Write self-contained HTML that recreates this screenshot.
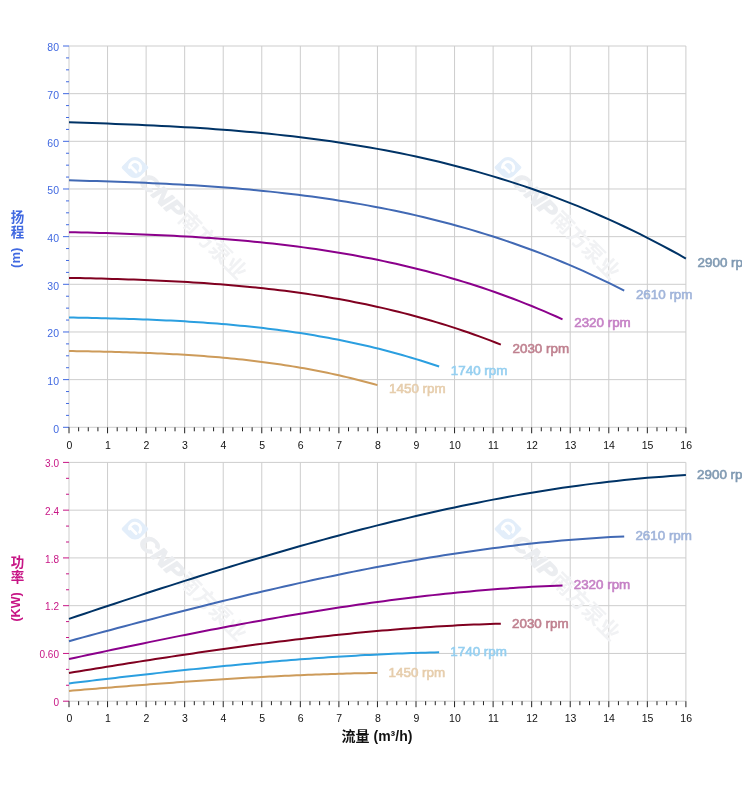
<!DOCTYPE html><html><head><meta charset="utf-8"><title>chart</title><style>
html,body{margin:0;padding:0;background:#fff}
#wrap{position:relative;width:742px;height:797px;overflow:hidden;background:#fff}
svg{position:absolute;left:0;top:0}
text{font-family:"Liberation Sans","Noto Sans CJK SC",sans-serif}
.yt{font-size:10.5px;text-anchor:end}.xt{font-size:10.5px;text-anchor:middle;fill:#111}
.sl{font-size:13.4px;font-weight:normal;stroke-width:0.6px;paint-order:stroke}
.vt{position:absolute;writing-mode:vertical-rl;font-family:"Liberation Sans","Noto Sans CJK SC",sans-serif;font-weight:bold;font-size:13px;line-height:15px;white-space:nowrap}
.wm{font-family:"Liberation Sans","Noto Sans CJK SC",sans-serif;fill:#e9ebee}
</style></head><body><div id="wrap">
<svg width="744" height="797" viewBox="0 0 744 797">
<g stroke-width="1" fill="none">
<line x1="69.0" x2="685.9" y1="427.3" y2="427.3" stroke="#cdcdcd"/>
<line x1="69.0" x2="685.9" y1="379.64" y2="379.64" stroke="#cdcdcd"/>
<line x1="69.0" x2="685.9" y1="331.98" y2="331.98" stroke="#cdcdcd"/>
<line x1="69.0" x2="685.9" y1="284.31" y2="284.31" stroke="#cdcdcd"/>
<line x1="69.0" x2="685.9" y1="236.65" y2="236.65" stroke="#cdcdcd"/>
<line x1="69.0" x2="685.9" y1="188.99" y2="188.99" stroke="#cdcdcd"/>
<line x1="69.0" x2="685.9" y1="141.32" y2="141.32" stroke="#cdcdcd"/>
<line x1="69.0" x2="685.9" y1="93.66" y2="93.66" stroke="#cdcdcd"/>
<line x1="69.0" x2="685.9" y1="46.0" y2="46.0" stroke="#cdcdcd"/>
<line x1="69.0" x2="69.0" y1="46.0" y2="427.3" stroke="#cdcdcd"/>
<line x1="107.56" x2="107.56" y1="46.0" y2="427.3" stroke="#cdcdcd"/>
<line x1="146.11" x2="146.11" y1="46.0" y2="427.3" stroke="#cdcdcd"/>
<line x1="184.67" x2="184.67" y1="46.0" y2="427.3" stroke="#cdcdcd"/>
<line x1="223.22" x2="223.22" y1="46.0" y2="427.3" stroke="#cdcdcd"/>
<line x1="261.78" x2="261.78" y1="46.0" y2="427.3" stroke="#cdcdcd"/>
<line x1="300.34" x2="300.34" y1="46.0" y2="427.3" stroke="#cdcdcd"/>
<line x1="338.89" x2="338.89" y1="46.0" y2="427.3" stroke="#cdcdcd"/>
<line x1="377.45" x2="377.45" y1="46.0" y2="427.3" stroke="#cdcdcd"/>
<line x1="416.01" x2="416.01" y1="46.0" y2="427.3" stroke="#cdcdcd"/>
<line x1="454.56" x2="454.56" y1="46.0" y2="427.3" stroke="#cdcdcd"/>
<line x1="493.12" x2="493.12" y1="46.0" y2="427.3" stroke="#cdcdcd"/>
<line x1="531.67" x2="531.67" y1="46.0" y2="427.3" stroke="#cdcdcd"/>
<line x1="570.23" x2="570.23" y1="46.0" y2="427.3" stroke="#cdcdcd"/>
<line x1="608.79" x2="608.79" y1="46.0" y2="427.3" stroke="#cdcdcd"/>
<line x1="647.34" x2="647.34" y1="46.0" y2="427.3" stroke="#cdcdcd"/>
<line x1="685.9" x2="685.9" y1="46.0" y2="427.3" stroke="#cdcdcd"/>
<line x1="63.0" x2="69.0" y1="427.3" y2="427.3" stroke="#4169e1"/>
<line x1="66.0" x2="69.0" y1="415.38" y2="415.38" stroke="#4169e1"/>
<line x1="66.0" x2="69.0" y1="403.47" y2="403.47" stroke="#4169e1"/>
<line x1="66.0" x2="69.0" y1="391.55" y2="391.55" stroke="#4169e1"/>
<line x1="63.0" x2="69.0" y1="379.64" y2="379.64" stroke="#4169e1"/>
<line x1="66.0" x2="69.0" y1="367.72" y2="367.72" stroke="#4169e1"/>
<line x1="66.0" x2="69.0" y1="355.81" y2="355.81" stroke="#4169e1"/>
<line x1="66.0" x2="69.0" y1="343.89" y2="343.89" stroke="#4169e1"/>
<line x1="63.0" x2="69.0" y1="331.98" y2="331.98" stroke="#4169e1"/>
<line x1="66.0" x2="69.0" y1="320.06" y2="320.06" stroke="#4169e1"/>
<line x1="66.0" x2="69.0" y1="308.14" y2="308.14" stroke="#4169e1"/>
<line x1="66.0" x2="69.0" y1="296.23" y2="296.23" stroke="#4169e1"/>
<line x1="63.0" x2="69.0" y1="284.31" y2="284.31" stroke="#4169e1"/>
<line x1="66.0" x2="69.0" y1="272.4" y2="272.4" stroke="#4169e1"/>
<line x1="66.0" x2="69.0" y1="260.48" y2="260.48" stroke="#4169e1"/>
<line x1="66.0" x2="69.0" y1="248.57" y2="248.57" stroke="#4169e1"/>
<line x1="63.0" x2="69.0" y1="236.65" y2="236.65" stroke="#4169e1"/>
<line x1="66.0" x2="69.0" y1="224.73" y2="224.73" stroke="#4169e1"/>
<line x1="66.0" x2="69.0" y1="212.82" y2="212.82" stroke="#4169e1"/>
<line x1="66.0" x2="69.0" y1="200.9" y2="200.9" stroke="#4169e1"/>
<line x1="63.0" x2="69.0" y1="188.99" y2="188.99" stroke="#4169e1"/>
<line x1="66.0" x2="69.0" y1="177.07" y2="177.07" stroke="#4169e1"/>
<line x1="66.0" x2="69.0" y1="165.16" y2="165.16" stroke="#4169e1"/>
<line x1="66.0" x2="69.0" y1="153.24" y2="153.24" stroke="#4169e1"/>
<line x1="63.0" x2="69.0" y1="141.32" y2="141.32" stroke="#4169e1"/>
<line x1="66.0" x2="69.0" y1="129.41" y2="129.41" stroke="#4169e1"/>
<line x1="66.0" x2="69.0" y1="117.49" y2="117.49" stroke="#4169e1"/>
<line x1="66.0" x2="69.0" y1="105.58" y2="105.58" stroke="#4169e1"/>
<line x1="63.0" x2="69.0" y1="93.66" y2="93.66" stroke="#4169e1"/>
<line x1="66.0" x2="69.0" y1="81.75" y2="81.75" stroke="#4169e1"/>
<line x1="66.0" x2="69.0" y1="69.83" y2="69.83" stroke="#4169e1"/>
<line x1="66.0" x2="69.0" y1="57.92" y2="57.92" stroke="#4169e1"/>
<line x1="63.0" x2="69.0" y1="46.0" y2="46.0" stroke="#4169e1"/>
<line x1="69.0" x2="69.0" y1="427.3" y2="433.3" stroke="#222"/>
<line x1="78.64" x2="78.64" y1="427.3" y2="431.3" stroke="#222"/>
<line x1="88.28" x2="88.28" y1="427.3" y2="431.3" stroke="#222"/>
<line x1="97.92" x2="97.92" y1="427.3" y2="431.3" stroke="#222"/>
<line x1="107.56" x2="107.56" y1="427.3" y2="433.3" stroke="#222"/>
<line x1="117.2" x2="117.2" y1="427.3" y2="431.3" stroke="#222"/>
<line x1="126.83" x2="126.83" y1="427.3" y2="431.3" stroke="#222"/>
<line x1="136.47" x2="136.47" y1="427.3" y2="431.3" stroke="#222"/>
<line x1="146.11" x2="146.11" y1="427.3" y2="433.3" stroke="#222"/>
<line x1="155.75" x2="155.75" y1="427.3" y2="431.3" stroke="#222"/>
<line x1="165.39" x2="165.39" y1="427.3" y2="431.3" stroke="#222"/>
<line x1="175.03" x2="175.03" y1="427.3" y2="431.3" stroke="#222"/>
<line x1="184.67" x2="184.67" y1="427.3" y2="433.3" stroke="#222"/>
<line x1="194.31" x2="194.31" y1="427.3" y2="431.3" stroke="#222"/>
<line x1="203.95" x2="203.95" y1="427.3" y2="431.3" stroke="#222"/>
<line x1="213.59" x2="213.59" y1="427.3" y2="431.3" stroke="#222"/>
<line x1="223.22" x2="223.22" y1="427.3" y2="433.3" stroke="#222"/>
<line x1="232.86" x2="232.86" y1="427.3" y2="431.3" stroke="#222"/>
<line x1="242.5" x2="242.5" y1="427.3" y2="431.3" stroke="#222"/>
<line x1="252.14" x2="252.14" y1="427.3" y2="431.3" stroke="#222"/>
<line x1="261.78" x2="261.78" y1="427.3" y2="433.3" stroke="#222"/>
<line x1="271.42" x2="271.42" y1="427.3" y2="431.3" stroke="#222"/>
<line x1="281.06" x2="281.06" y1="427.3" y2="431.3" stroke="#222"/>
<line x1="290.7" x2="290.7" y1="427.3" y2="431.3" stroke="#222"/>
<line x1="300.34" x2="300.34" y1="427.3" y2="433.3" stroke="#222"/>
<line x1="309.98" x2="309.98" y1="427.3" y2="431.3" stroke="#222"/>
<line x1="319.62" x2="319.62" y1="427.3" y2="431.3" stroke="#222"/>
<line x1="329.25" x2="329.25" y1="427.3" y2="431.3" stroke="#222"/>
<line x1="338.89" x2="338.89" y1="427.3" y2="433.3" stroke="#222"/>
<line x1="348.53" x2="348.53" y1="427.3" y2="431.3" stroke="#222"/>
<line x1="358.17" x2="358.17" y1="427.3" y2="431.3" stroke="#222"/>
<line x1="367.81" x2="367.81" y1="427.3" y2="431.3" stroke="#222"/>
<line x1="377.45" x2="377.45" y1="427.3" y2="433.3" stroke="#222"/>
<line x1="387.09" x2="387.09" y1="427.3" y2="431.3" stroke="#222"/>
<line x1="396.73" x2="396.73" y1="427.3" y2="431.3" stroke="#222"/>
<line x1="406.37" x2="406.37" y1="427.3" y2="431.3" stroke="#222"/>
<line x1="416.01" x2="416.01" y1="427.3" y2="433.3" stroke="#222"/>
<line x1="425.65" x2="425.65" y1="427.3" y2="431.3" stroke="#222"/>
<line x1="435.28" x2="435.28" y1="427.3" y2="431.3" stroke="#222"/>
<line x1="444.92" x2="444.92" y1="427.3" y2="431.3" stroke="#222"/>
<line x1="454.56" x2="454.56" y1="427.3" y2="433.3" stroke="#222"/>
<line x1="464.2" x2="464.2" y1="427.3" y2="431.3" stroke="#222"/>
<line x1="473.84" x2="473.84" y1="427.3" y2="431.3" stroke="#222"/>
<line x1="483.48" x2="483.48" y1="427.3" y2="431.3" stroke="#222"/>
<line x1="493.12" x2="493.12" y1="427.3" y2="433.3" stroke="#222"/>
<line x1="502.76" x2="502.76" y1="427.3" y2="431.3" stroke="#222"/>
<line x1="512.4" x2="512.4" y1="427.3" y2="431.3" stroke="#222"/>
<line x1="522.04" x2="522.04" y1="427.3" y2="431.3" stroke="#222"/>
<line x1="531.67" x2="531.67" y1="427.3" y2="433.3" stroke="#222"/>
<line x1="541.31" x2="541.31" y1="427.3" y2="431.3" stroke="#222"/>
<line x1="550.95" x2="550.95" y1="427.3" y2="431.3" stroke="#222"/>
<line x1="560.59" x2="560.59" y1="427.3" y2="431.3" stroke="#222"/>
<line x1="570.23" x2="570.23" y1="427.3" y2="433.3" stroke="#222"/>
<line x1="579.87" x2="579.87" y1="427.3" y2="431.3" stroke="#222"/>
<line x1="589.51" x2="589.51" y1="427.3" y2="431.3" stroke="#222"/>
<line x1="599.15" x2="599.15" y1="427.3" y2="431.3" stroke="#222"/>
<line x1="608.79" x2="608.79" y1="427.3" y2="433.3" stroke="#222"/>
<line x1="618.43" x2="618.43" y1="427.3" y2="431.3" stroke="#222"/>
<line x1="628.07" x2="628.07" y1="427.3" y2="431.3" stroke="#222"/>
<line x1="637.7" x2="637.7" y1="427.3" y2="431.3" stroke="#222"/>
<line x1="647.34" x2="647.34" y1="427.3" y2="433.3" stroke="#222"/>
<line x1="656.98" x2="656.98" y1="427.3" y2="431.3" stroke="#222"/>
<line x1="666.62" x2="666.62" y1="427.3" y2="431.3" stroke="#222"/>
<line x1="676.26" x2="676.26" y1="427.3" y2="431.3" stroke="#222"/>
<line x1="685.9" x2="685.9" y1="427.3" y2="433.3" stroke="#222"/>
</g>
<text class="yt" x="59" y="432.6" fill="#4169e1" style="font-size:10.5px">0</text>
<text class="yt" x="59" y="384.9" fill="#4169e1" style="font-size:10.5px">10</text>
<text class="yt" x="59" y="337.3" fill="#4169e1" style="font-size:10.5px">20</text>
<text class="yt" x="59" y="289.6" fill="#4169e1" style="font-size:10.5px">30</text>
<text class="yt" x="59" y="242.0" fill="#4169e1" style="font-size:10.5px">40</text>
<text class="yt" x="59" y="194.3" fill="#4169e1" style="font-size:10.5px">50</text>
<text class="yt" x="59" y="146.6" fill="#4169e1" style="font-size:10.5px">60</text>
<text class="yt" x="59" y="99.0" fill="#4169e1" style="font-size:10.5px">70</text>
<text class="yt" x="59" y="51.3" fill="#4169e1" style="font-size:10.5px">80</text>
<text class="xt" x="69.3" y="448.8">0</text>
<text class="xt" x="107.9" y="448.8">1</text>
<text class="xt" x="146.4" y="448.8">2</text>
<text class="xt" x="185.0" y="448.8">3</text>
<text class="xt" x="223.5" y="448.8">4</text>
<text class="xt" x="262.1" y="448.8">5</text>
<text class="xt" x="300.6" y="448.8">6</text>
<text class="xt" x="339.2" y="448.8">7</text>
<text class="xt" x="377.8" y="448.8">8</text>
<text class="xt" x="416.3" y="448.8">9</text>
<text class="xt" x="454.9" y="448.8">10</text>
<text class="xt" x="493.4" y="448.8">11</text>
<text class="xt" x="532.0" y="448.8">12</text>
<text class="xt" x="570.5" y="448.8">13</text>
<text class="xt" x="609.1" y="448.8">14</text>
<text class="xt" x="647.6" y="448.8">15</text>
<text class="xt" x="686.2" y="448.8">16</text>
<g transform="translate(135,167.5) rotate(45)" class="wm">
<g transform="scale(1.13)"><path d="M-1.5,-8.75 L7.25,-8.75 Q8.75,-8.75 8.75,-7.25 L8.75,1.5 A7.25,7.25 0 0 1 1.5,8.75 L-7.25,8.75 Q-8.75,8.75 -8.75,7.25 L-8.75,-1.5 A7.25,7.25 0 0 1 -1.5,-8.75 Z" fill="#e3eefa"/>
<path d="M-3.5,3.5 A5,5 0 1 1 4.9,-0.87 M-3,2.1 L3.5,2.1" fill="none" stroke="#fff" stroke-width="2.5" stroke-linecap="round"/></g>
<text x="12" y="8.5" font-size="22" font-weight="bold" font-style="italic" textLength="54" lengthAdjust="spacingAndGlyphs" fill="#ebedf0" stroke="#ebedf0" stroke-width="1.3" stroke-linejoin="round">CNP</text>
<text x="67" y="7.5" font-size="21.5" font-weight="bold" fill="#f1f2f4">南方泵业</text>
</g>
<g transform="translate(508,167.5) rotate(45)" class="wm">
<g transform="scale(1.13)"><path d="M-1.5,-8.75 L7.25,-8.75 Q8.75,-8.75 8.75,-7.25 L8.75,1.5 A7.25,7.25 0 0 1 1.5,8.75 L-7.25,8.75 Q-8.75,8.75 -8.75,7.25 L-8.75,-1.5 A7.25,7.25 0 0 1 -1.5,-8.75 Z" fill="#e3eefa"/>
<path d="M-3.5,3.5 A5,5 0 1 1 4.9,-0.87 M-3,2.1 L3.5,2.1" fill="none" stroke="#fff" stroke-width="2.5" stroke-linecap="round"/></g>
<text x="12" y="8.5" font-size="22" font-weight="bold" font-style="italic" textLength="54" lengthAdjust="spacingAndGlyphs" fill="#ebedf0" stroke="#ebedf0" stroke-width="1.3" stroke-linejoin="round">CNP</text>
<text x="67" y="7.5" font-size="21.5" font-weight="bold" fill="#f1f2f4">南方泵业</text>
</g>
<polyline fill="none" stroke="#003366" stroke-width="2" stroke-linejoin="round" points="69.00,122.37 76.71,122.59 84.42,122.83 92.13,123.08 99.84,123.33 107.56,123.60 115.27,123.88 122.98,124.17 130.69,124.48 138.40,124.80 146.11,125.15 153.82,125.50 161.54,125.88 169.25,126.28 176.96,126.70 184.67,127.14 192.38,127.61 200.09,128.10 207.80,128.62 215.51,129.16 223.22,129.73 230.94,130.34 238.65,130.97 246.36,131.63 254.07,132.33 261.78,133.06 269.49,133.83 277.20,134.63 284.92,135.47 292.63,136.34 300.34,137.26 308.05,138.22 315.76,139.22 323.47,140.26 331.18,141.35 338.89,142.48 346.61,143.66 354.32,144.89 362.03,146.16 369.74,147.48 377.45,148.86 385.16,150.29 392.87,151.77 400.58,153.30 408.30,154.89 416.01,156.54 423.72,158.24 431.43,160.01 439.14,161.83 446.85,163.71 454.56,165.66 462.27,167.67 469.99,169.74 477.70,171.88 485.41,174.09 493.12,176.36 500.83,178.71 508.54,181.12 516.25,183.60 523.96,186.16 531.67,188.79 539.39,191.50 547.10,194.28 554.81,197.13 562.52,200.07 570.23,203.09 577.94,206.18 585.65,209.36 593.37,212.62 601.08,215.96 608.79,219.39 616.50,222.90 624.21,226.50 631.92,230.19 639.63,233.97 647.34,237.84 655.06,241.80 662.77,245.85 670.48,250.00 678.19,254.24 685.90,258.58"/>
<text class="sl" x="697.6" y="266.6" fill="#7f99b2" stroke="#7f99b2">2900 rpm</text>
<polyline fill="none" stroke="#4169b4" stroke-width="2" stroke-linejoin="round" points="69.00,180.30 75.94,180.49 82.88,180.68 89.82,180.88 96.76,181.09 103.70,181.30 110.64,181.53 117.58,181.77 124.52,182.02 131.46,182.28 138.40,182.55 145.34,182.85 152.28,183.15 159.22,183.47 166.16,183.81 173.10,184.17 180.04,184.55 186.98,184.95 193.92,185.37 200.86,185.81 207.80,186.27 214.74,186.76 221.68,187.27 228.62,187.81 235.56,188.37 242.50,188.97 249.44,189.59 256.38,190.23 263.32,190.91 270.26,191.63 277.20,192.37 284.14,193.14 291.08,193.95 298.02,194.80 304.96,195.68 311.90,196.60 318.84,197.55 325.78,198.54 332.72,199.58 339.66,200.65 346.60,201.76 353.55,202.92 360.49,204.12 367.43,205.36 374.37,206.65 381.31,207.98 388.25,209.36 395.19,210.79 402.13,212.27 409.07,213.79 416.01,215.37 422.95,217.00 429.89,218.68 436.83,220.41 443.77,222.20 450.71,224.04 457.65,225.94 464.59,227.89 471.53,229.91 478.47,231.98 485.41,234.11 492.35,236.30 499.29,238.55 506.23,240.87 513.17,243.24 520.11,245.69 527.05,248.19 533.99,250.77 540.93,253.41 547.87,256.11 554.81,258.89 561.75,261.74 568.69,264.65 575.63,267.64 582.57,270.70 589.51,273.83 596.45,277.04 603.39,280.33 610.33,283.68 617.27,287.12 624.21,290.63"/>
<text class="sl" x="635.9" y="298.6" fill="#a0b4da" stroke="#a0b4da">2610 rpm</text>
<polyline fill="none" stroke="#8b008b" stroke-width="2" stroke-linejoin="round" points="69.00,232.14 75.17,232.29 81.34,232.44 87.51,232.60 93.68,232.76 99.84,232.93 106.01,233.11 112.18,233.30 118.35,233.50 124.52,233.70 130.69,233.92 136.86,234.15 143.03,234.39 149.20,234.65 155.37,234.92 161.53,235.20 167.70,235.50 173.87,235.81 180.04,236.14 186.21,236.49 192.38,236.86 198.55,237.24 204.72,237.65 210.89,238.07 217.06,238.52 223.22,238.99 229.39,239.48 235.56,239.99 241.73,240.53 247.90,241.09 254.07,241.68 260.24,242.29 266.41,242.93 272.58,243.60 278.75,244.29 284.92,245.02 291.08,245.77 297.25,246.55 303.42,247.37 309.59,248.22 315.76,249.10 321.93,250.01 328.10,250.96 334.27,251.94 340.44,252.96 346.61,254.01 352.77,255.10 358.94,256.23 365.11,257.40 371.28,258.60 377.45,259.85 383.62,261.14 389.79,262.46 395.96,263.83 402.13,265.24 408.30,266.70 414.46,268.20 420.63,269.74 426.80,271.33 432.97,272.97 439.14,274.65 445.31,276.39 451.48,278.17 457.65,279.99 463.82,281.87 469.99,283.80 476.15,285.78 482.32,287.82 488.49,289.90 494.66,292.04 500.83,294.24 507.00,296.48 513.17,298.79 519.34,301.15 525.51,303.57 531.67,306.04 537.84,308.58 544.01,311.17 550.18,313.83 556.35,316.54 562.52,319.32"/>
<text class="sl" x="574.2" y="327.3" fill="#c580c5" stroke="#c580c5">2320 rpm</text>
<polyline fill="none" stroke="#800020" stroke-width="2" stroke-linejoin="round" points="69.00,277.88 74.40,277.99 79.80,278.11 85.19,278.23 90.59,278.36 95.99,278.49 101.39,278.62 106.79,278.77 112.18,278.92 117.58,279.08 122.98,279.24 128.38,279.42 133.77,279.61 139.17,279.80 144.57,280.01 149.97,280.22 155.37,280.45 160.76,280.69 166.16,280.95 171.56,281.21 176.96,281.49 182.36,281.79 187.75,282.10 193.15,282.42 198.55,282.76 203.95,283.12 209.34,283.50 214.74,283.89 220.14,284.30 225.54,284.73 230.94,285.18 236.33,285.65 241.73,286.14 247.13,286.65 252.53,287.18 257.93,287.74 263.32,288.32 268.72,288.92 274.12,289.54 279.52,290.19 284.91,290.86 290.31,291.56 295.71,292.29 301.11,293.04 306.51,293.82 311.90,294.63 317.30,295.46 322.70,296.33 328.10,297.22 333.50,298.14 338.89,299.10 344.29,300.08 349.69,301.10 355.09,302.15 360.49,303.23 365.88,304.34 371.28,305.49 376.68,306.67 382.08,307.89 387.47,309.14 392.87,310.43 398.27,311.76 403.67,313.12 409.07,314.52 414.46,315.96 419.86,317.43 425.26,318.95 430.66,320.51 436.06,322.10 441.45,323.74 446.85,325.42 452.25,327.14 457.65,328.91 463.04,330.72 468.44,332.57 473.84,334.46 479.24,336.40 484.64,338.39 490.03,340.42 495.43,342.50 500.83,344.63"/>
<text class="sl" x="512.5" y="352.6" fill="#bf808f" stroke="#bf808f">2030 rpm</text>
<polyline fill="none" stroke="#2b9fe0" stroke-width="2" stroke-linejoin="round" points="69.00,317.52 73.63,317.61 78.25,317.69 82.88,317.78 87.51,317.87 92.13,317.97 96.76,318.07 101.39,318.17 106.01,318.29 110.64,318.40 115.27,318.52 119.89,318.65 124.52,318.79 129.15,318.93 133.77,319.08 138.40,319.24 143.03,319.41 147.65,319.59 152.28,319.77 156.91,319.97 161.53,320.18 166.16,320.39 170.79,320.62 175.42,320.86 180.04,321.11 184.67,321.37 189.30,321.65 193.92,321.94 198.55,322.24 203.18,322.56 207.80,322.89 212.43,323.23 217.06,323.59 221.68,323.97 226.31,324.36 230.94,324.77 235.56,325.19 240.19,325.63 244.82,326.09 249.44,326.57 254.07,327.06 258.70,327.58 263.32,328.11 267.95,328.66 272.58,329.23 277.20,329.83 281.83,330.44 286.46,331.07 291.08,331.73 295.71,332.41 300.34,333.11 304.96,333.83 309.59,334.58 314.22,335.35 318.84,336.14 323.47,336.96 328.10,337.81 332.72,338.67 337.35,339.57 341.98,340.49 346.60,341.44 351.23,342.41 355.86,343.41 360.49,344.44 365.11,345.50 369.74,346.58 374.37,347.70 378.99,348.84 383.62,350.01 388.25,351.22 392.87,352.45 397.50,353.72 402.13,355.01 406.75,356.34 411.38,357.70 416.01,359.09 420.63,360.52 425.26,361.98 429.89,363.47 434.51,365.00 439.14,366.56"/>
<text class="sl" x="450.8" y="374.6" fill="#95cff0" stroke="#95cff0">1740 rpm</text>
<polyline fill="none" stroke="#cd9b5a" stroke-width="2" stroke-linejoin="round" points="69.00,351.07 72.86,351.12 76.71,351.18 80.57,351.24 84.42,351.31 88.28,351.37 92.13,351.44 95.99,351.52 99.84,351.60 103.70,351.68 107.56,351.76 111.41,351.85 115.27,351.95 119.12,352.05 122.98,352.15 126.83,352.26 130.69,352.38 134.55,352.50 138.40,352.63 142.26,352.77 146.11,352.91 149.97,353.06 153.82,353.22 157.68,353.38 161.54,353.56 165.39,353.74 169.25,353.93 173.10,354.13 176.96,354.34 180.81,354.56 184.67,354.79 188.52,355.03 192.38,355.28 196.24,355.54 200.09,355.81 203.95,356.10 207.80,356.39 211.66,356.70 215.51,357.01 219.37,357.35 223.22,357.69 227.08,358.05 230.94,358.42 234.79,358.80 238.65,359.20 242.50,359.61 246.36,360.04 250.21,360.48 254.07,360.93 257.93,361.40 261.78,361.89 265.64,362.39 269.49,362.91 273.35,363.45 277.20,364.00 281.06,364.57 284.92,365.15 288.77,365.75 292.63,366.38 296.48,367.02 300.34,367.67 304.19,368.35 308.05,369.04 311.90,369.76 315.76,370.49 319.62,371.25 323.47,372.02 327.33,372.81 331.18,373.63 335.04,374.46 338.89,375.32 342.75,376.20 346.61,377.10 350.46,378.02 354.32,378.97 358.17,379.93 362.03,380.92 365.88,381.94 369.74,382.97 373.59,384.03 377.45,385.12"/>
<text class="sl" x="389.1" y="393.1" fill="#e6cdac" stroke="#e6cdac">1450 rpm</text>
<g stroke-width="1" fill="none">
<line x1="69.0" x2="685.9" y1="701.2" y2="701.2" stroke="#cdcdcd"/>
<line x1="69.0" x2="685.9" y1="653.44" y2="653.44" stroke="#cdcdcd"/>
<line x1="69.0" x2="685.9" y1="605.68" y2="605.68" stroke="#cdcdcd"/>
<line x1="69.0" x2="685.9" y1="557.92" y2="557.92" stroke="#cdcdcd"/>
<line x1="69.0" x2="685.9" y1="510.16" y2="510.16" stroke="#cdcdcd"/>
<line x1="69.0" x2="685.9" y1="462.4" y2="462.4" stroke="#cdcdcd"/>
<line x1="69.0" x2="69.0" y1="462.4" y2="701.2" stroke="#cdcdcd"/>
<line x1="107.56" x2="107.56" y1="462.4" y2="701.2" stroke="#cdcdcd"/>
<line x1="146.11" x2="146.11" y1="462.4" y2="701.2" stroke="#cdcdcd"/>
<line x1="184.67" x2="184.67" y1="462.4" y2="701.2" stroke="#cdcdcd"/>
<line x1="223.22" x2="223.22" y1="462.4" y2="701.2" stroke="#cdcdcd"/>
<line x1="261.78" x2="261.78" y1="462.4" y2="701.2" stroke="#cdcdcd"/>
<line x1="300.34" x2="300.34" y1="462.4" y2="701.2" stroke="#cdcdcd"/>
<line x1="338.89" x2="338.89" y1="462.4" y2="701.2" stroke="#cdcdcd"/>
<line x1="377.45" x2="377.45" y1="462.4" y2="701.2" stroke="#cdcdcd"/>
<line x1="416.01" x2="416.01" y1="462.4" y2="701.2" stroke="#cdcdcd"/>
<line x1="454.56" x2="454.56" y1="462.4" y2="701.2" stroke="#cdcdcd"/>
<line x1="493.12" x2="493.12" y1="462.4" y2="701.2" stroke="#cdcdcd"/>
<line x1="531.67" x2="531.67" y1="462.4" y2="701.2" stroke="#cdcdcd"/>
<line x1="570.23" x2="570.23" y1="462.4" y2="701.2" stroke="#cdcdcd"/>
<line x1="608.79" x2="608.79" y1="462.4" y2="701.2" stroke="#cdcdcd"/>
<line x1="647.34" x2="647.34" y1="462.4" y2="701.2" stroke="#cdcdcd"/>
<line x1="685.9" x2="685.9" y1="462.4" y2="701.2" stroke="#cdcdcd"/>
<line x1="63.0" x2="69.0" y1="701.2" y2="701.2" stroke="#c71585"/>
<line x1="66.0" x2="69.0" y1="685.28" y2="685.28" stroke="#c71585"/>
<line x1="66.0" x2="69.0" y1="669.36" y2="669.36" stroke="#c71585"/>
<line x1="63.0" x2="69.0" y1="653.44" y2="653.44" stroke="#c71585"/>
<line x1="66.0" x2="69.0" y1="637.52" y2="637.52" stroke="#c71585"/>
<line x1="66.0" x2="69.0" y1="621.6" y2="621.6" stroke="#c71585"/>
<line x1="63.0" x2="69.0" y1="605.68" y2="605.68" stroke="#c71585"/>
<line x1="66.0" x2="69.0" y1="589.76" y2="589.76" stroke="#c71585"/>
<line x1="66.0" x2="69.0" y1="573.84" y2="573.84" stroke="#c71585"/>
<line x1="63.0" x2="69.0" y1="557.92" y2="557.92" stroke="#c71585"/>
<line x1="66.0" x2="69.0" y1="542.0" y2="542.0" stroke="#c71585"/>
<line x1="66.0" x2="69.0" y1="526.08" y2="526.08" stroke="#c71585"/>
<line x1="63.0" x2="69.0" y1="510.16" y2="510.16" stroke="#c71585"/>
<line x1="66.0" x2="69.0" y1="494.24" y2="494.24" stroke="#c71585"/>
<line x1="66.0" x2="69.0" y1="478.32" y2="478.32" stroke="#c71585"/>
<line x1="63.0" x2="69.0" y1="462.4" y2="462.4" stroke="#c71585"/>
<line x1="69.0" x2="69.0" y1="701.2" y2="707.2" stroke="#222"/>
<line x1="78.64" x2="78.64" y1="701.2" y2="705.2" stroke="#222"/>
<line x1="88.28" x2="88.28" y1="701.2" y2="705.2" stroke="#222"/>
<line x1="97.92" x2="97.92" y1="701.2" y2="705.2" stroke="#222"/>
<line x1="107.56" x2="107.56" y1="701.2" y2="707.2" stroke="#222"/>
<line x1="117.2" x2="117.2" y1="701.2" y2="705.2" stroke="#222"/>
<line x1="126.83" x2="126.83" y1="701.2" y2="705.2" stroke="#222"/>
<line x1="136.47" x2="136.47" y1="701.2" y2="705.2" stroke="#222"/>
<line x1="146.11" x2="146.11" y1="701.2" y2="707.2" stroke="#222"/>
<line x1="155.75" x2="155.75" y1="701.2" y2="705.2" stroke="#222"/>
<line x1="165.39" x2="165.39" y1="701.2" y2="705.2" stroke="#222"/>
<line x1="175.03" x2="175.03" y1="701.2" y2="705.2" stroke="#222"/>
<line x1="184.67" x2="184.67" y1="701.2" y2="707.2" stroke="#222"/>
<line x1="194.31" x2="194.31" y1="701.2" y2="705.2" stroke="#222"/>
<line x1="203.95" x2="203.95" y1="701.2" y2="705.2" stroke="#222"/>
<line x1="213.59" x2="213.59" y1="701.2" y2="705.2" stroke="#222"/>
<line x1="223.22" x2="223.22" y1="701.2" y2="707.2" stroke="#222"/>
<line x1="232.86" x2="232.86" y1="701.2" y2="705.2" stroke="#222"/>
<line x1="242.5" x2="242.5" y1="701.2" y2="705.2" stroke="#222"/>
<line x1="252.14" x2="252.14" y1="701.2" y2="705.2" stroke="#222"/>
<line x1="261.78" x2="261.78" y1="701.2" y2="707.2" stroke="#222"/>
<line x1="271.42" x2="271.42" y1="701.2" y2="705.2" stroke="#222"/>
<line x1="281.06" x2="281.06" y1="701.2" y2="705.2" stroke="#222"/>
<line x1="290.7" x2="290.7" y1="701.2" y2="705.2" stroke="#222"/>
<line x1="300.34" x2="300.34" y1="701.2" y2="707.2" stroke="#222"/>
<line x1="309.98" x2="309.98" y1="701.2" y2="705.2" stroke="#222"/>
<line x1="319.62" x2="319.62" y1="701.2" y2="705.2" stroke="#222"/>
<line x1="329.25" x2="329.25" y1="701.2" y2="705.2" stroke="#222"/>
<line x1="338.89" x2="338.89" y1="701.2" y2="707.2" stroke="#222"/>
<line x1="348.53" x2="348.53" y1="701.2" y2="705.2" stroke="#222"/>
<line x1="358.17" x2="358.17" y1="701.2" y2="705.2" stroke="#222"/>
<line x1="367.81" x2="367.81" y1="701.2" y2="705.2" stroke="#222"/>
<line x1="377.45" x2="377.45" y1="701.2" y2="707.2" stroke="#222"/>
<line x1="387.09" x2="387.09" y1="701.2" y2="705.2" stroke="#222"/>
<line x1="396.73" x2="396.73" y1="701.2" y2="705.2" stroke="#222"/>
<line x1="406.37" x2="406.37" y1="701.2" y2="705.2" stroke="#222"/>
<line x1="416.01" x2="416.01" y1="701.2" y2="707.2" stroke="#222"/>
<line x1="425.65" x2="425.65" y1="701.2" y2="705.2" stroke="#222"/>
<line x1="435.28" x2="435.28" y1="701.2" y2="705.2" stroke="#222"/>
<line x1="444.92" x2="444.92" y1="701.2" y2="705.2" stroke="#222"/>
<line x1="454.56" x2="454.56" y1="701.2" y2="707.2" stroke="#222"/>
<line x1="464.2" x2="464.2" y1="701.2" y2="705.2" stroke="#222"/>
<line x1="473.84" x2="473.84" y1="701.2" y2="705.2" stroke="#222"/>
<line x1="483.48" x2="483.48" y1="701.2" y2="705.2" stroke="#222"/>
<line x1="493.12" x2="493.12" y1="701.2" y2="707.2" stroke="#222"/>
<line x1="502.76" x2="502.76" y1="701.2" y2="705.2" stroke="#222"/>
<line x1="512.4" x2="512.4" y1="701.2" y2="705.2" stroke="#222"/>
<line x1="522.04" x2="522.04" y1="701.2" y2="705.2" stroke="#222"/>
<line x1="531.67" x2="531.67" y1="701.2" y2="707.2" stroke="#222"/>
<line x1="541.31" x2="541.31" y1="701.2" y2="705.2" stroke="#222"/>
<line x1="550.95" x2="550.95" y1="701.2" y2="705.2" stroke="#222"/>
<line x1="560.59" x2="560.59" y1="701.2" y2="705.2" stroke="#222"/>
<line x1="570.23" x2="570.23" y1="701.2" y2="707.2" stroke="#222"/>
<line x1="579.87" x2="579.87" y1="701.2" y2="705.2" stroke="#222"/>
<line x1="589.51" x2="589.51" y1="701.2" y2="705.2" stroke="#222"/>
<line x1="599.15" x2="599.15" y1="701.2" y2="705.2" stroke="#222"/>
<line x1="608.79" x2="608.79" y1="701.2" y2="707.2" stroke="#222"/>
<line x1="618.43" x2="618.43" y1="701.2" y2="705.2" stroke="#222"/>
<line x1="628.07" x2="628.07" y1="701.2" y2="705.2" stroke="#222"/>
<line x1="637.7" x2="637.7" y1="701.2" y2="705.2" stroke="#222"/>
<line x1="647.34" x2="647.34" y1="701.2" y2="707.2" stroke="#222"/>
<line x1="656.98" x2="656.98" y1="701.2" y2="705.2" stroke="#222"/>
<line x1="666.62" x2="666.62" y1="701.2" y2="705.2" stroke="#222"/>
<line x1="676.26" x2="676.26" y1="701.2" y2="705.2" stroke="#222"/>
<line x1="685.9" x2="685.9" y1="701.2" y2="707.2" stroke="#222"/>
</g>
<text class="yt" x="59" y="705.8" fill="#c71585" style="font-size:10px">0</text>
<text class="yt" x="59" y="658.0" fill="#c71585" style="font-size:10px">0.60</text>
<text class="yt" x="59" y="610.3" fill="#c71585" style="font-size:10px">1.2</text>
<text class="yt" x="59" y="562.5" fill="#c71585" style="font-size:10px">1.8</text>
<text class="yt" x="59" y="514.8" fill="#c71585" style="font-size:10px">2.4</text>
<text class="yt" x="59" y="467.0" fill="#c71585" style="font-size:10px">3.0</text>
<text class="xt" x="69.3" y="721.9">0</text>
<text class="xt" x="107.9" y="721.9">1</text>
<text class="xt" x="146.4" y="721.9">2</text>
<text class="xt" x="185.0" y="721.9">3</text>
<text class="xt" x="223.5" y="721.9">4</text>
<text class="xt" x="262.1" y="721.9">5</text>
<text class="xt" x="300.6" y="721.9">6</text>
<text class="xt" x="339.2" y="721.9">7</text>
<text class="xt" x="377.8" y="721.9">8</text>
<text class="xt" x="416.3" y="721.9">9</text>
<text class="xt" x="454.9" y="721.9">10</text>
<text class="xt" x="493.4" y="721.9">11</text>
<text class="xt" x="532.0" y="721.9">12</text>
<text class="xt" x="570.5" y="721.9">13</text>
<text class="xt" x="609.1" y="721.9">14</text>
<text class="xt" x="647.6" y="721.9">15</text>
<text class="xt" x="686.2" y="721.9">16</text>
<g transform="translate(135,529) rotate(45)" class="wm">
<g transform="scale(1.13)"><path d="M-1.5,-8.75 L7.25,-8.75 Q8.75,-8.75 8.75,-7.25 L8.75,1.5 A7.25,7.25 0 0 1 1.5,8.75 L-7.25,8.75 Q-8.75,8.75 -8.75,7.25 L-8.75,-1.5 A7.25,7.25 0 0 1 -1.5,-8.75 Z" fill="#e3eefa"/>
<path d="M-3.5,3.5 A5,5 0 1 1 4.9,-0.87 M-3,2.1 L3.5,2.1" fill="none" stroke="#fff" stroke-width="2.5" stroke-linecap="round"/></g>
<text x="12" y="8.5" font-size="22" font-weight="bold" font-style="italic" textLength="54" lengthAdjust="spacingAndGlyphs" fill="#ebedf0" stroke="#ebedf0" stroke-width="1.3" stroke-linejoin="round">CNP</text>
<text x="67" y="7.5" font-size="21.5" font-weight="bold" fill="#f1f2f4">南方泵业</text>
</g>
<g transform="translate(508,529) rotate(45)" class="wm">
<g transform="scale(1.13)"><path d="M-1.5,-8.75 L7.25,-8.75 Q8.75,-8.75 8.75,-7.25 L8.75,1.5 A7.25,7.25 0 0 1 1.5,8.75 L-7.25,8.75 Q-8.75,8.75 -8.75,7.25 L-8.75,-1.5 A7.25,7.25 0 0 1 -1.5,-8.75 Z" fill="#e3eefa"/>
<path d="M-3.5,3.5 A5,5 0 1 1 4.9,-0.87 M-3,2.1 L3.5,2.1" fill="none" stroke="#fff" stroke-width="2.5" stroke-linecap="round"/></g>
<text x="12" y="8.5" font-size="22" font-weight="bold" font-style="italic" textLength="54" lengthAdjust="spacingAndGlyphs" fill="#ebedf0" stroke="#ebedf0" stroke-width="1.3" stroke-linejoin="round">CNP</text>
<text x="67" y="7.5" font-size="21.5" font-weight="bold" fill="#f1f2f4">南方泵业</text>
</g>
<polyline fill="none" stroke="#003366" stroke-width="2" stroke-linejoin="round" points="69.00,618.85 76.71,616.26 84.42,613.68 92.13,611.11 99.84,608.54 107.56,605.98 115.27,603.43 122.98,600.88 130.69,598.35 138.40,595.83 146.11,593.31 153.82,590.81 161.54,588.32 169.25,585.84 176.96,583.37 184.67,580.92 192.38,578.48 200.09,576.05 207.80,573.64 215.51,571.25 223.22,568.87 230.94,566.50 238.65,564.16 246.36,561.83 254.07,559.51 261.78,557.22 269.49,554.95 277.20,552.69 284.92,550.46 292.63,548.24 300.34,546.05 308.05,543.88 315.76,541.73 323.47,539.60 331.18,537.50 338.89,535.42 346.61,533.36 354.32,531.33 362.03,529.33 369.74,527.35 377.45,525.40 385.16,523.47 392.87,521.57 400.58,519.70 408.30,517.86 416.01,516.05 423.72,514.26 431.43,512.51 439.14,510.79 446.85,509.10 454.56,507.44 462.27,505.81 469.99,504.22 477.70,502.66 485.41,501.13 493.12,499.64 500.83,498.19 508.54,496.76 516.25,495.38 523.96,494.03 531.67,492.72 539.39,491.45 547.10,490.21 554.81,489.01 562.52,487.86 570.23,486.74 577.94,485.66 585.65,484.63 593.37,483.63 601.08,482.68 608.79,481.77 616.50,480.90 624.21,480.08 631.92,479.30 639.63,478.56 647.34,477.87 655.06,477.23 662.77,476.63 670.48,476.08 678.19,475.58 685.90,475.12"/>
<text class="sl" x="697.1" y="479.0" fill="#7f99b2" stroke="#7f99b2">2900 rpm</text>
<polyline fill="none" stroke="#4169b4" stroke-width="2" stroke-linejoin="round" points="69.00,641.17 75.94,639.28 82.88,637.40 89.82,635.52 96.76,633.65 103.70,631.78 110.64,629.92 117.58,628.07 124.52,626.22 131.46,624.38 138.40,622.55 145.34,620.73 152.28,618.91 159.22,617.10 166.16,615.30 173.10,613.52 180.04,611.74 186.98,609.97 193.92,608.21 200.86,606.46 207.80,604.73 214.74,603.01 221.68,601.30 228.62,599.60 235.56,597.91 242.50,596.24 249.44,594.58 256.38,592.94 263.32,591.31 270.26,589.69 277.20,588.10 284.14,586.51 291.08,584.95 298.02,583.39 304.96,581.86 311.90,580.35 318.84,578.85 325.78,577.37 332.72,575.90 339.66,574.46 346.60,573.04 353.55,571.63 360.49,570.25 367.43,568.89 374.37,567.54 381.31,566.22 388.25,564.92 395.19,563.65 402.13,562.39 409.07,561.16 416.01,559.95 422.95,558.76 429.89,557.60 436.83,556.46 443.77,555.35 450.71,554.26 457.65,553.20 464.59,552.17 471.53,551.16 478.47,550.17 485.41,549.22 492.35,548.29 499.29,547.39 506.23,546.52 513.17,545.67 520.11,544.86 527.05,544.07 533.99,543.32 540.93,542.59 547.87,541.90 554.81,541.23 561.75,540.60 568.69,540.00 575.63,539.43 582.57,538.90 589.51,538.40 596.45,537.93 603.39,537.49 610.33,537.09 617.27,536.72 624.21,536.39"/>
<text class="sl" x="635.4" y="540.3" fill="#a0b4da" stroke="#a0b4da">2610 rpm</text>
<polyline fill="none" stroke="#8b008b" stroke-width="2" stroke-linejoin="round" points="69.00,659.04 75.17,657.71 81.34,656.39 87.51,655.07 93.68,653.76 99.84,652.45 106.01,651.14 112.18,649.84 118.35,648.54 124.52,647.25 130.69,645.96 136.86,644.68 143.03,643.40 149.20,642.14 155.37,640.87 161.53,639.62 167.70,638.37 173.87,637.13 180.04,635.89 186.21,634.66 192.38,633.45 198.55,632.24 204.72,631.03 210.89,629.84 217.06,628.66 223.22,627.48 229.39,626.32 235.56,625.16 241.73,624.02 247.90,622.89 254.07,621.76 260.24,620.65 266.41,619.55 272.58,618.46 278.75,617.38 284.92,616.32 291.08,615.27 297.25,614.23 303.42,613.20 309.59,612.19 315.76,611.19 321.93,610.20 328.10,609.23 334.27,608.27 340.44,607.33 346.61,606.40 352.77,605.49 358.94,604.59 365.11,603.71 371.28,602.84 377.45,601.99 383.62,601.16 389.79,600.35 395.96,599.55 402.13,598.77 408.30,598.00 414.46,597.26 420.63,596.53 426.80,595.82 432.97,595.13 439.14,594.46 445.31,593.81 451.48,593.17 457.65,592.56 463.82,591.97 469.99,591.40 476.15,590.84 482.32,590.31 488.49,589.80 494.66,589.32 500.83,588.85 507.00,588.41 513.17,587.99 519.34,587.59 525.51,587.21 531.67,586.86 537.84,586.53 544.01,586.22 550.18,585.94 556.35,585.68 562.52,585.45"/>
<text class="sl" x="573.7" y="589.3" fill="#c580c5" stroke="#c580c5">2320 rpm</text>
<polyline fill="none" stroke="#800020" stroke-width="2" stroke-linejoin="round" points="69.00,672.95 74.40,672.07 79.80,671.18 85.19,670.30 90.59,669.42 95.99,668.54 101.39,667.66 106.79,666.79 112.18,665.92 117.58,665.06 122.98,664.19 128.38,663.34 133.77,662.48 139.17,661.63 144.57,660.79 149.97,659.94 155.37,659.11 160.76,658.27 166.16,657.45 171.56,656.63 176.96,655.81 182.36,655.00 187.75,654.19 193.15,653.39 198.55,652.60 203.95,651.82 209.34,651.04 214.74,650.26 220.14,649.50 225.54,648.74 230.94,647.98 236.33,647.24 241.73,646.50 247.13,645.77 252.53,645.05 257.93,644.34 263.32,643.63 268.72,642.94 274.12,642.25 279.52,641.57 284.91,640.90 290.31,640.24 295.71,639.59 301.11,638.95 306.51,638.31 311.90,637.69 317.30,637.08 322.70,636.48 328.10,635.89 333.50,635.31 338.89,634.74 344.29,634.18 349.69,633.64 355.09,633.10 360.49,632.58 365.88,632.07 371.28,631.57 376.68,631.08 382.08,630.60 387.47,630.14 392.87,629.69 398.27,629.25 403.67,628.83 409.07,628.42 414.46,628.02 419.86,627.64 425.26,627.27 430.66,626.92 436.06,626.57 441.45,626.25 446.85,625.94 452.25,625.64 457.65,625.36 463.04,625.09 468.44,624.84 473.84,624.60 479.24,624.38 484.64,624.17 490.03,623.98 495.43,623.81 500.83,623.66"/>
<text class="sl" x="512.0" y="627.6" fill="#bf808f" stroke="#bf808f">2030 rpm</text>
<polyline fill="none" stroke="#2b9fe0" stroke-width="2" stroke-linejoin="round" points="69.00,683.41 73.63,682.85 78.25,682.30 82.88,681.74 87.51,681.19 92.13,680.63 96.76,680.08 101.39,679.53 106.01,678.98 110.64,678.44 115.27,677.90 119.89,677.36 124.52,676.82 129.15,676.28 133.77,675.75 138.40,675.22 143.03,674.69 147.65,674.17 152.28,673.65 156.91,673.13 161.53,672.62 166.16,672.11 170.79,671.60 175.42,671.10 180.04,670.60 184.67,670.10 189.30,669.61 193.92,669.12 198.55,668.64 203.18,668.16 207.80,667.69 212.43,667.22 217.06,666.75 221.68,666.29 226.31,665.84 230.94,665.39 235.56,664.95 240.19,664.51 244.82,664.08 249.44,663.65 254.07,663.23 258.70,662.81 263.32,662.40 267.95,662.00 272.58,661.60 277.20,661.21 281.83,660.82 286.46,660.44 291.08,660.07 295.71,659.71 300.34,659.35 304.96,659.00 309.59,658.65 314.22,658.32 318.84,657.99 323.47,657.66 328.10,657.35 332.72,657.04 337.35,656.74 341.98,656.45 346.60,656.17 351.23,655.89 355.86,655.63 360.49,655.37 365.11,655.12 369.74,654.88 374.37,654.64 378.99,654.42 383.62,654.21 388.25,654.00 392.87,653.80 397.50,653.62 402.13,653.44 406.75,653.27 411.38,653.11 416.01,652.96 420.63,652.82 425.26,652.69 429.89,652.57 434.51,652.47 439.14,652.37"/>
<text class="sl" x="450.3" y="656.3" fill="#95cff0" stroke="#95cff0">1740 rpm</text>
<polyline fill="none" stroke="#cd9b5a" stroke-width="2" stroke-linejoin="round" points="69.00,690.91 72.86,690.58 76.71,690.26 80.57,689.94 84.42,689.62 88.28,689.30 92.13,688.98 95.99,688.66 99.84,688.34 103.70,688.03 107.56,687.71 111.41,687.40 115.27,687.09 119.12,686.78 122.98,686.47 126.83,686.16 130.69,685.86 134.55,685.56 138.40,685.26 142.26,684.96 146.11,684.66 149.97,684.36 153.82,684.07 157.68,683.78 161.54,683.49 165.39,683.20 169.25,682.92 173.10,682.64 176.96,682.36 180.81,682.08 184.67,681.81 188.52,681.53 192.38,681.27 196.24,681.00 200.09,680.74 203.95,680.48 207.80,680.22 211.66,679.97 215.51,679.72 219.37,679.47 223.22,679.22 227.08,678.98 230.94,678.75 234.79,678.51 238.65,678.28 242.50,678.06 246.36,677.83 250.21,677.61 254.07,677.40 257.93,677.19 261.78,676.98 265.64,676.78 269.49,676.58 273.35,676.38 277.20,676.19 281.06,676.01 284.92,675.82 288.77,675.65 292.63,675.47 296.48,675.30 300.34,675.14 304.19,674.98 308.05,674.83 311.90,674.68 315.76,674.53 319.62,674.39 323.47,674.26 327.33,674.13 331.18,674.00 335.04,673.88 338.89,673.77 342.75,673.66 346.61,673.56 350.46,673.46 354.32,673.37 358.17,673.28 362.03,673.20 365.88,673.13 369.74,673.06 373.59,673.00 377.45,672.94"/>
<text class="sl" x="388.6" y="676.8" fill="#e6cdac" stroke="#e6cdac">1450 rpm</text>
<text x="377" y="740.8" text-anchor="middle" font-size="14" font-weight="bold" fill="#111">流量 (m³/h)</text>
<text font-size="13.5" font-weight="bold" fill="#4169e1" text-anchor="middle"><tspan x="17.4" y="221.7">扬</tspan><tspan x="17.4" y="237.3">程</tspan></text>
<text font-size="13" font-weight="bold" fill="#4169e1" transform="translate(20.1,267.9) rotate(-90)">(m)</text>
<text font-size="13.5" font-weight="bold" fill="#c71585" text-anchor="middle"><tspan x="17.4" y="566.7">功</tspan><tspan x="17.4" y="582.3">率</tspan></text>
<text font-size="12.6" font-weight="bold" fill="#c71585" transform="translate(20.1,621.6) rotate(-90)">(KW)</text>
</svg>
</div></body></html>
